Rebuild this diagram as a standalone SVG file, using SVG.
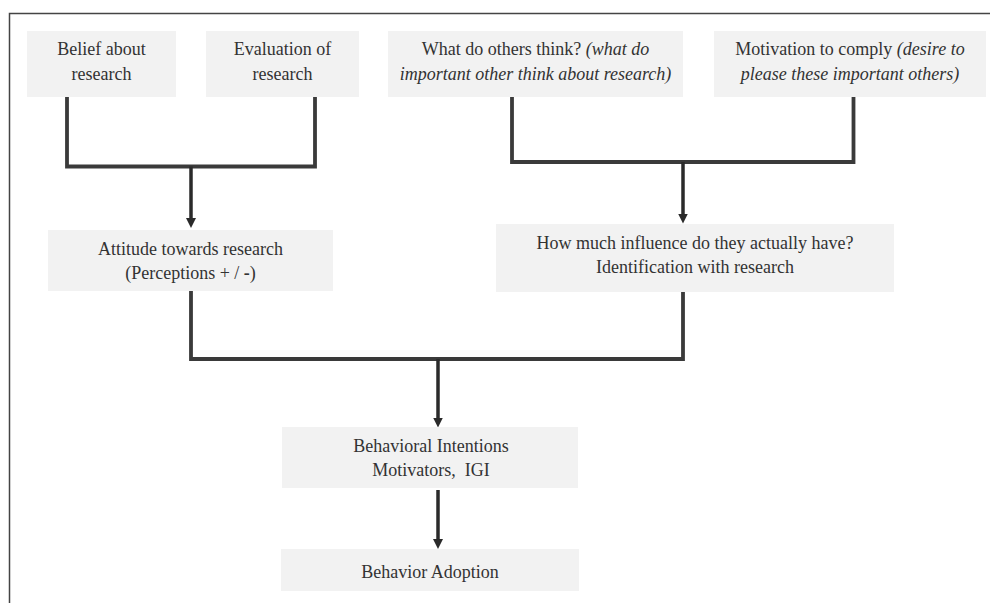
<svg xmlns="http://www.w3.org/2000/svg" width="990" height="603" viewBox="0 0 990 603">
<style>
.box{fill:#f2f2f2}
.t{font-family:"Liberation Serif","Times New Roman",serif;font-size:18px;fill:#333;text-anchor:middle}
.i{font-style:italic}
.ln{fill:none;stroke:#3a3a3a;stroke-width:3.8;stroke-linejoin:miter}
.ar{fill:none;stroke:#2a2a2a;stroke-width:3.5}
.frame{fill:none;stroke:#444;stroke-width:1.5}
</style>
<defs>
<marker id="ah" viewBox="0 0 10 10" refX="4" refY="5" markerWidth="10" markerHeight="10" markerUnits="userSpaceOnUse" orient="auto">
<path d="M0,0 L10,5 L0,10 z" fill="#2a2a2a"/>
</marker>
</defs>
<path class="frame" d="M9.5,603 V13.5 H990"/>
<g id="connectors">
<path class="ln" d="M67,97 V166.5 H315 V97"/>
<path class="ln" d="M512,97 V162 H853.5 V97"/>
<path class="ln" d="M191,291 V359 H683 V292"/>
<line class="ar" x1="191" y1="166.5" x2="191" y2="222" marker-end="url(#ah)"/>
<line class="ar" x1="683" y1="162" x2="683" y2="217.5" marker-end="url(#ah)"/>
<line class="ar" x1="438" y1="359" x2="438" y2="421.5" marker-end="url(#ah)"/>
<line class="ar" x1="438" y1="490" x2="438" y2="543" marker-end="url(#ah)"/>
</g>
<g id="belief">
<rect class="box" x="27" y="31" width="149" height="66"/>
<text class="t" x="101.5" y="55">Belief about</text>
<text class="t" x="101.5" y="79.5">research</text>
</g>
<g id="evaluation">
<rect class="box" x="206" y="31" width="153" height="66"/>
<text class="t" x="282.5" y="55">Evaluation of</text>
<text class="t" x="282.5" y="79.5">research</text>
</g>
<g id="others">
<rect class="box" x="388" y="31" width="295" height="66"/>
<text class="t" x="535.5" y="55">What do others think? <tspan class="i">(what do</tspan></text>
<text class="t i" x="535.5" y="79.5">important other think about research)</text>
</g>
<g id="motivation">
<rect class="box" x="714" y="31" width="272" height="66"/>
<text class="t" x="850" y="55">Motivation to comply <tspan class="i">(desire to</tspan></text>
<text class="t i" x="850" y="79.5">please these important others)</text>
</g>
<g id="attitude">
<rect class="box" x="48" y="230" width="285" height="61"/>
<text class="t" x="190.5" y="254.5">Attitude towards research</text>
<text class="t" x="190.5" y="279">(Perceptions + / <tspan font-weight="bold">-</tspan>)</text>
</g>
<g id="influence">
<rect class="box" x="496" y="224" width="398" height="68"/>
<text class="t" x="695" y="248.5">How much influence do they actually have?</text>
<text class="t" x="695" y="273">Identification with research</text>
</g>
<g id="intentions">
<rect class="box" x="282" y="427" width="296" height="61"/>
<text class="t" x="431" y="452">Behavioral Intentions</text>
<text class="t" x="431" y="476" xml:space="preserve">Motivators,  IGI</text>
</g>
<g id="adoption">
<rect class="box" x="281" y="549" width="298" height="42"/>
<text class="t" x="430" y="577.5">Behavior Adoption</text>
</g>
</svg>
